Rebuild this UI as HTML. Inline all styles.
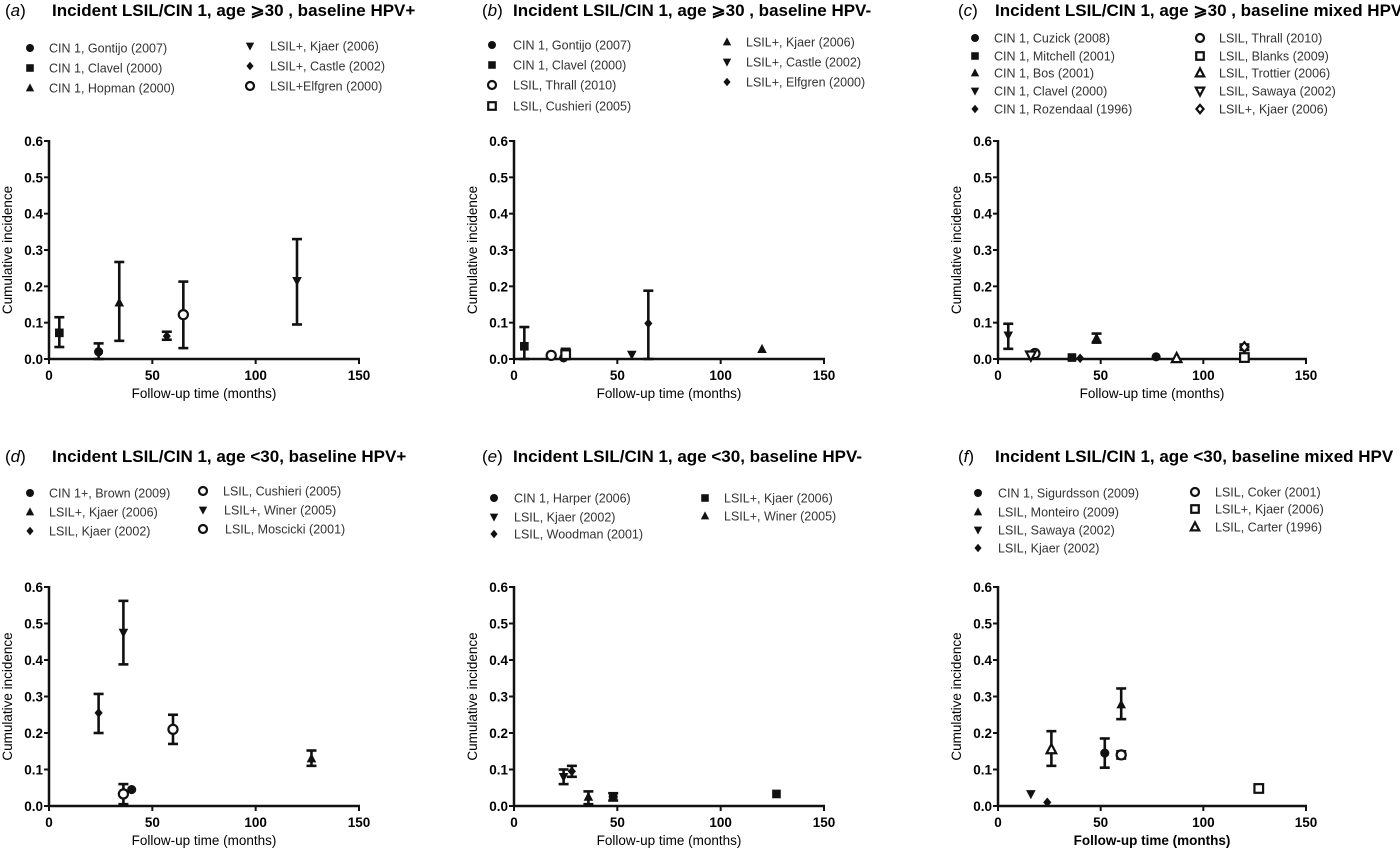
<!DOCTYPE html>
<html><head><meta charset="utf-8"><style>
body{margin:0;background:#fff;}
svg{display:block;font-family:"Liberation Sans",Arial,sans-serif;}
.ttl{font-weight:bold;font-size:17px;}
.lg{font-size:12.5px;fill:#333;}
.tk{font-weight:bold;font-size:13.5px;}
.ax{font-size:13.5px;}
</style></head><body>
<svg id="chart" width="1400" height="852" viewBox="0 0 1400 852"></svg>
<script>
// Data arrays per panel: [x months, y, lower, upper] (null for no error bar)
const xTicks = [0, 50, 100, 150];
const yTicks = [0.0, 0.1, 0.2, 0.3, 0.4, 0.5, 0.6];
const yTickLabels = ["0.0", "0.1", "0.2", "0.3", "0.4", "0.5", "0.6"];

const titlesA = ["(a)", "Incident LSIL/CIN 1, age \u2a7e30 , baseline HPV+"];
const seriesA = ["Gontijo","Clavel","Hopman","Kjaer","Castle","Elfgren"];
const markersA = ["circle","square","tri","down","diamond","ocircle"];
const xA = [24, 5, 34, 120, 57, 65];
const yA = [0.02, 0.072, 0.155, 0.215, 0.063, 0.122];
const loA = [0.0, 0.033, 0.05, 0.095, 0.053, 0.03];
const hiA = [0.043, 0.115, 0.267, 0.33, 0.075, 0.213];

const seriesB = ["Gontijo","Clavel","Thrall","Cushieri","Kjaer","Castle","Elfgren"];
const markersB = ["circle","square","ocircle","osquare","tri","down","diamond"];
const xB = [24, 5, 18, 25, 120, 57, 65];
const yB = [0.003, 0.035, 0.01, 0.012, 0.027, 0.012, 0.098];
const loB = [null, 0.0, null, 0.0, null, null, 0.0];
const hiB = [null, 0.088, null, 0.028, null, null, 0.188];

const seriesC = ["Cuzick","Mitchell","Bos","Clavel","Rozendaal","Thrall","Blanks","Trottier","Sawaya","Kjaer"];
const markersC = ["circle","square","tri","down","diamond","ocircle","osquare","otri","odown","odiamond"];
const xC = [77, 36, 48, 5, 40, 18, 120, 87, 16, 120];
const yC = [0.006, 0.004, 0.058, 0.065, 0.002, 0.015, 0.004, 0.002, 0.01, 0.033];
const loC = [null, null, 0.045, 0.028, null, null, null, null, null, 0.025];
const hiC = [null, null, 0.07, 0.097, null, null, null, null, null, 0.04];

const seriesD = ["Brown","Kjaer06","Kjaer02","Cushieri","Winer","Moscicki"];
const markersD = ["circle","tri","diamond","ocircle","down","ocircle"];
const xD = [40, 127, 24, 36, 36, 60];
const yD = [0.045, 0.13, 0.255, 0.033, 0.475, 0.21];
const loD = [null, 0.11, 0.2, 0.005, 0.388, 0.17];
const hiD = [null, 0.152, 0.307, 0.06, 0.562, 0.25];

const seriesE = ["Harper","Kjaer02","Woodman","Kjaer06","Winer"];
const markersE = ["circle","down","diamond","square","tri"];
const xE = [48, 24, 28, 127, 36];
const yE = [0.025, 0.08, 0.095, 0.033, 0.025];
const loE = [0.015, 0.06, 0.08, null, 0.005];
const hiE = [0.035, 0.1, 0.11, null, 0.04];

const seriesF = ["Sigurdsson","Monteiro","Sawaya","Kjaer02","Coker","Kjaer06","Carter"];
const markersF = ["circle","tri","down","diamond","ocircle","osquare","otri"];
const xF = [52, 60, 16, 24, 60, 127, 26];
const yF = [0.145, 0.278, 0.033, 0.01, 0.14, 0.048, 0.155];
const loF = [0.105, 0.238, null, null, 0.13, null, 0.11];
const hiF = [0.185, 0.322, null, null, 0.15, null, 0.205];

const svg = document.getElementById('chart');
const NS = 'http://www.w3.org/2000/svg';
function mk(tag, attrs, parent){const e=document.createElementNS(NS,tag);for(const k in attrs)e.setAttribute(k,attrs[k]);(parent||svg).appendChild(e);return e;}

function marker(g, type, cx, cy, s){
  let e;
  const fill = type.startsWith('o') ? '#fff' : '#111';
  const sw = type.startsWith('o') ? 2.2 : 0;
  const t = type.replace(/^o(?=(circle|square|tri|down|diamond))/, '');
  if(t==='circle') e=mk('circle',{cx:cx,cy:cy,r:s*0.95},g);
  else if(t==='square') e=mk('rect',{x:cx-s*0.9,y:cy-s*0.9,width:s*1.8,height:s*1.8},g);
  else if(t==='tri') e=mk('polygon',{points:`${cx},${cy-s*1.1} ${cx-s},${cy+s*0.8} ${cx+s},${cy+s*0.8}`},g);
  else if(t==='down') e=mk('polygon',{points:`${cx},${cy+s*1.1} ${cx-s},${cy-s*0.8} ${cx+s},${cy-s*0.8}`},g);
  else e=mk('polygon',{points:`${cx},${cy-s} ${cx+s*0.85},${cy} ${cx},${cy+s} ${cx-s*0.85},${cy}`},g);
  e.setAttribute('fill',fill);e.setAttribute('stroke','#111');e.setAttribute('stroke-width',sw);
  return e;
}

function panel(p){
  const g = mk('g',{});
  
  
  const lbl = mk('text',{x:p.lx,y:p.ty,class:'ttl'},g);
  lbl.setAttribute('font-weight','normal');lbl.style.fontWeight='normal';
  lbl.innerHTML = '(<tspan font-style="italic">'+p.id+'</tspan>)';
  
  
  const tt = mk('text',{x:p.tx,y:p.ty,class:'ttl'},g);
  tt.textContent = p.title;
  
  
  // legend
  p.leg.forEach((L,i)=>{
    const lg = mk('g',{},g);
    
    
    marker(lg, p.markers[i], L[0], L[1], 4.2);
    const t = mk('text',{x:L[2],y:L[1]+4.5,class:'lg'},lg);
    t.textContent = L[3];
  });
  const X = v => p.x0 + (p.x1-p.x0)*v/150;
  const Y = v => p.y0 - (p.y0-p.y1)*v/0.6;
  // axes
  const ax = mk('g',{},g);
  
  
  mk('line',{x1:p.x0,y1:p.y0,x2:p.x1+1,y2:p.y0,stroke:'#111','stroke-width':2.5},ax);
  mk('line',{x1:p.x0,y1:p.y0+1,x2:p.x0,y2:p.y1-1,stroke:'#111','stroke-width':2.5},ax);
  yTicks.forEach((v,i)=>{
    mk('line',{x1:p.x0-5,y1:Y(v),x2:p.x0,y2:Y(v),stroke:'#111','stroke-width':2},ax);
    const t=mk('text',{x:p.x0-6,y:Y(v)+5,class:'tk','text-anchor':'end'},ax);t.textContent=yTickLabels[i];
  });
  xTicks.forEach(v=>{
    mk('line',{x1:X(v),y1:p.y0,x2:X(v),y2:p.y0+5,stroke:'#111','stroke-width':2},ax);
    const t=mk('text',{x:X(v),y:p.y0+21,class:'tk','text-anchor':'middle'},ax);t.textContent=v;
  });
  const xt=mk('text',{x:(p.x0+p.x1)/2,y:p.y0+39,class:'ax','text-anchor':'middle'},ax);
  xt.textContent='Follow-up time (months)';
  if(p.id==='f') xt.setAttribute('font-weight','bold');
  
  
  const yc=(p.y0+p.y1)/2;
  const yt=mk('text',{x:p.x0-37,y:yc,class:'ax','text-anchor':'middle',transform:`rotate(-90 ${p.x0-37} ${yc})`},ax);
  yt.textContent='Cumulative incidence';
  
  
  // points
  p.xs.forEach((xv,i)=>{
    const pg = mk('g',{},g);
    
    
    const cx=X(xv), cy=Y(p.ys[i]);
    if(p.lo[i]!==null){
      const a=Y(p.lo[i]), b=Y(p.hi[i]);
      mk('line',{x1:cx,y1:a,x2:cx,y2:b,stroke:'#111','stroke-width':2.6},pg);
      mk('line',{x1:cx-5,y1:a,x2:cx+5,y2:a,stroke:'#111','stroke-width':2.6},pg);
      mk('line',{x1:cx-5,y1:b,x2:cx+5,y2:b,stroke:'#111','stroke-width':2.6},pg);
    }
    marker(pg, p.markers[i], cx, cy, 4.8);
  });
}

panel({id:'a',lx:5,tx:52,ty:16,title:'Incident LSIL/CIN 1, age \u2a7e30 , baseline HPV+',
  x0:49,x1:359,y0:359,y1:141,names:seriesA,markers:markersA,xs:xA,ys:yA,lo:loA,hi:hiA,
  leg:[[30,48,49,'CIN 1, Gontijo (2007)'],[30,68,49,'CIN 1, Clavel (2000)'],[30,88,49,'CIN 1, Hopman (2000)'],
       [250,46,270,'LSIL+, Kjaer (2006)'],[250,66,270,'LSIL+, Castle (2002)'],[250,86,270,'LSIL+Elfgren (2000)']]});
panel({id:'b',lx:482,tx:513,ty:16,title:'Incident LSIL/CIN 1, age \u2a7e30 , baseline HPV-',
  x0:514,x1:824,y0:359,y1:141,names:seriesB,markers:markersB,xs:xB,ys:yB,lo:loB,hi:hiB,
  leg:[[492,45,513,'CIN 1, Gontijo (2007)'],[492,65,513,'CIN 1, Clavel (2000)'],[492,85,513,'LSIL, Thrall (2010)'],[492,106,513,'LSIL, Cushieri (2005)'],
       [727,42,746,'LSIL+, Kjaer (2006)'],[727,62,746,'LSIL+, Castle (2002)'],[727,82,746,'LSIL+, Elfgren (2000)']]});
panel({id:'c',lx:958,tx:995,ty:16,title:'Incident LSIL/CIN 1, age \u2a7e30 , baseline mixed HPV',
  x0:998,x1:1306,y0:359,y1:141,names:seriesC,markers:markersC,xs:xC,ys:yC,lo:loC,hi:hiC,
  leg:[[975,38,994,'CIN 1, Cuzick (2008)'],[975,56,994,'CIN 1, Mitchell (2001)'],[975,73,994,'CIN 1, Bos (2001)'],[975,91,994,'CIN 1, Clavel (2000)'],[975,109,994,'CIN 1, Rozendaal (1996)'],
       [1200,38,1219,'LSIL, Thrall (2010)'],[1200,56,1219,'LSIL, Blanks (2009)'],[1200,73,1219,'LSIL, Trottier (2006)'],[1200,91,1219,'LSIL, Sawaya (2002)'],[1200,109,1219,'LSIL+, Kjaer (2006)']]});
panel({id:'d',lx:5,tx:52,ty:462,title:'Incident LSIL/CIN 1, age <30, baseline HPV+',
  x0:49,x1:359,y0:806,y1:587,names:seriesD,markers:markersD,xs:xD,ys:yD,lo:loD,hi:hiD,
  leg:[[30,493,49,'CIN 1+, Brown (2009)'],[30,512,49,'LSIL+, Kjaer (2006)'],[30,531,49,'LSIL, Kjaer (2002)'],
       [203,491,223,'LSIL, Cushieri (2005)'],[203,510,224,'LSIL+, Winer (2005)'],[203,529,225,'LSIL, Moscicki (2001)']]});
panel({id:'e',lx:482,tx:513,ty:462,title:'Incident LSIL/CIN 1, age <30, baseline HPV-',
  x0:514,x1:824,y0:806,y1:587,names:seriesE,markers:markersE,xs:xE,ys:yE,lo:loE,hi:hiE,
  leg:[[494,498,514,'CIN 1, Harper (2006)'],[494,517,514,'LSIL, Kjaer (2002)'],[494,534,514,'LSIL, Woodman (2001)'],
       [705,498,724,'LSIL+, Kjaer (2006)'],[705,516,724,'LSIL+, Winer (2005)']]});
panel({id:'f',lx:958,tx:995,ty:462,title:'Incident LSIL/CIN 1, age <30, baseline mixed HPV',
  x0:998,x1:1306,y0:806,y1:587,names:seriesF,markers:markersF,xs:xF,ys:yF,lo:loF,hi:hiF,
  leg:[[978,493,998,'CIN 1, Sigurdsson (2009)'],[978,512,998,'LSIL, Monteiro (2009)'],[978,530,998,'LSIL, Sawaya (2002)'],[978,548,998,'LSIL, Kjaer (2002)'],
       [1195,492,1215,'LSIL, Coker (2001)'],[1195,509,1215,'LSIL+, Kjaer (2006)'],[1195,527,1215,'LSIL, Carter (1996)']]});
</script>
</body></html>
